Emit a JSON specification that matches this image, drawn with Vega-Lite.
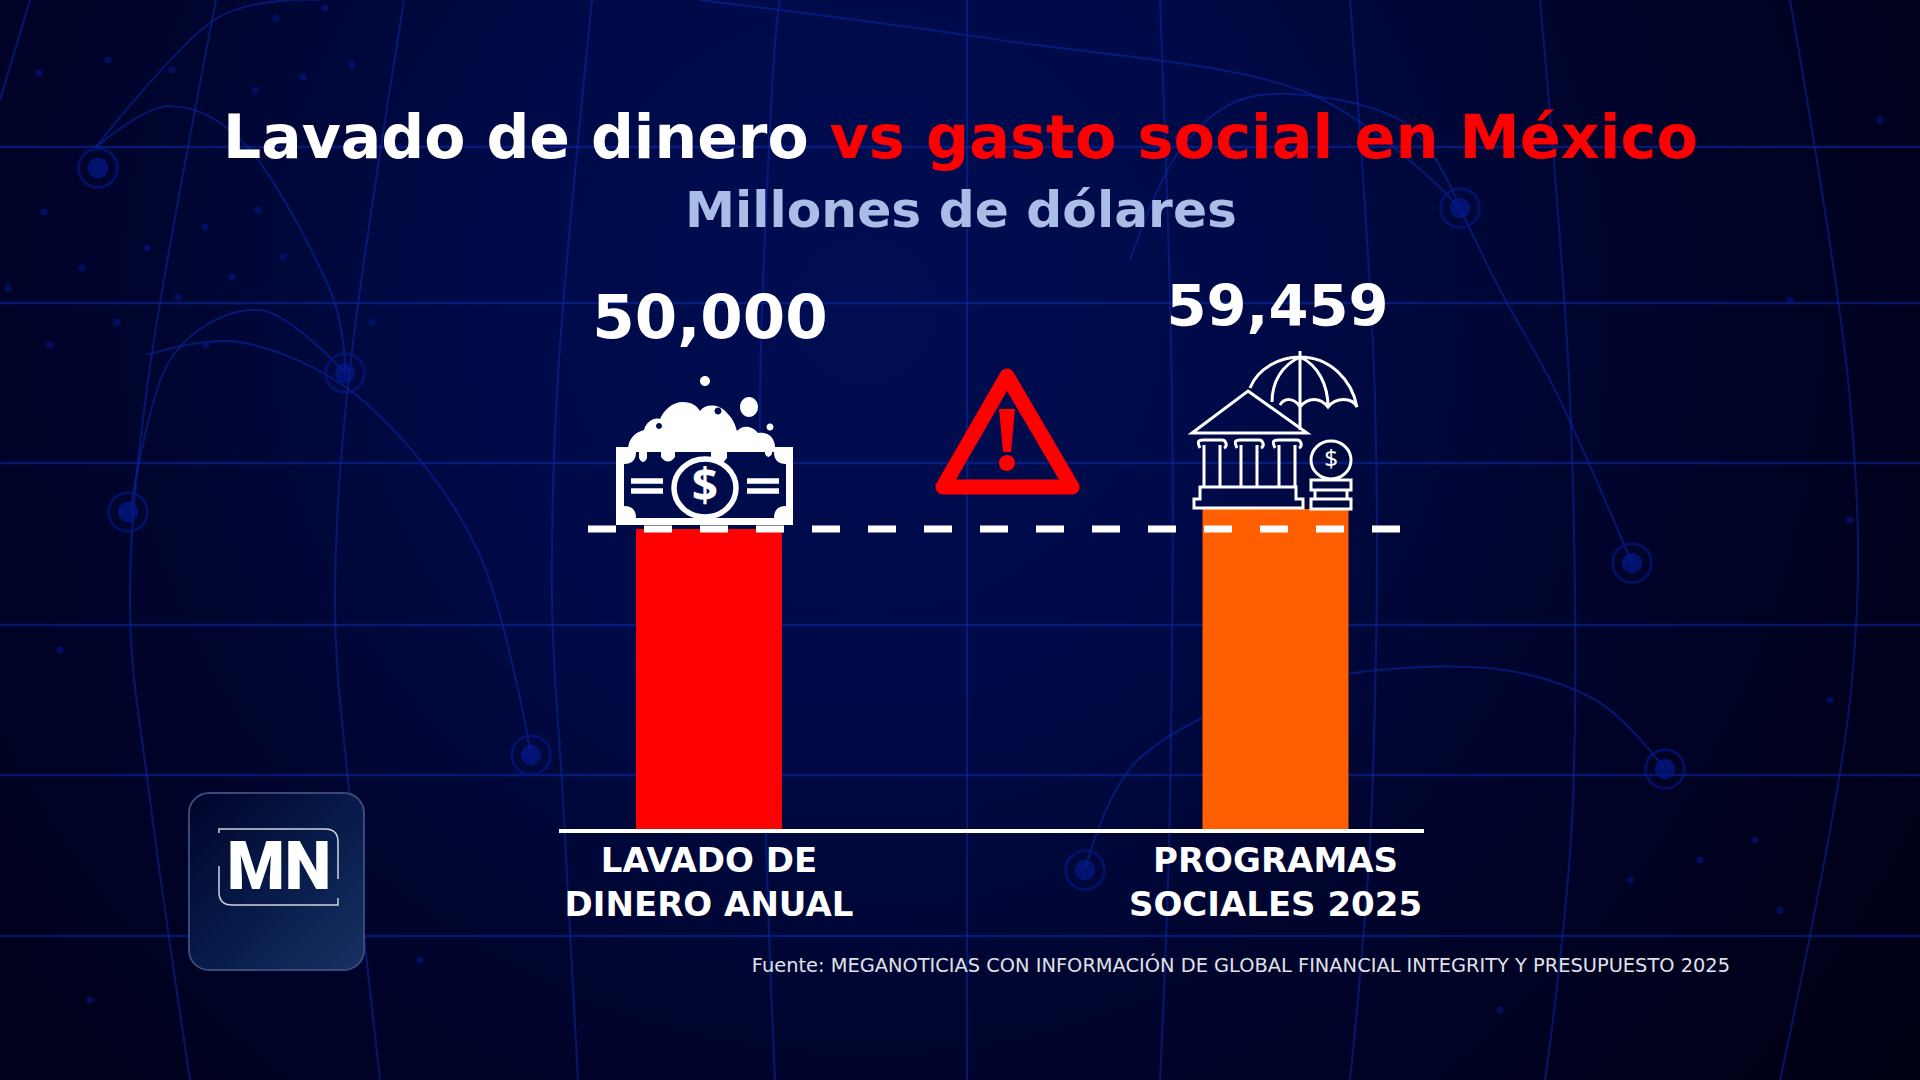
{"$schema":"https://vega.github.io/schema/vega-lite/v6.json","width":1920,"height":1080,"padding":0,"autosize":"none","background":"#00001c","config":{"view":{"stroke":null}},
"data":{"values":[{"anotacion":1}]},
"datasets":{
"valores":[{"categoria":"Lavado de dinero anual","rotulo":"LAVADO DE\nDINERO ANUAL","valor":50000,"etiqueta":"50,000"},{"categoria":"Programas sociales 2025","rotulo":"PROGRAMAS\nSOCIALES 2025","valor":59459,"etiqueta":"59,459"}],
"horizontales":[{"y":147},{"y":303},{"y":463},{"y":625},{"y":775},{"y":936}],
"curvas":[
{"id":"v1","n":0,"x":30,"y":0},{"id":"v1","n":1,"x":0,"y":100},
{"id":"v2","n":0,"x":216,"y":0},{"id":"v2","n":1,"x":151,"y":360},{"id":"v2","n":2,"x":130,"y":600},{"id":"v2","n":3,"x":150,"y":800},{"id":"v2","n":4,"x":190,"y":1080},
{"id":"v3","n":0,"x":404,"y":0},{"id":"v3","n":1,"x":351,"y":360},{"id":"v3","n":2,"x":335,"y":600},{"id":"v3","n":3,"x":350,"y":800},{"id":"v3","n":4,"x":380,"y":1080},
{"id":"v4","n":0,"x":592,"y":0},{"id":"v4","n":1,"x":559,"y":360},{"id":"v4","n":2,"x":552,"y":600},{"id":"v4","n":3,"x":563,"y":800},{"id":"v4","n":4,"x":578,"y":1080},
{"id":"v5","n":0,"x":780,"y":0},{"id":"v5","n":1,"x":772,"y":90},{"id":"v5","n":2,"x":760,"y":400},{"id":"v5","n":3,"x":765,"y":800},{"id":"v5","n":4,"x":775,"y":1080},
{"id":"v6","n":0,"x":967,"y":0},{"id":"v6","n":1,"x":967,"y":1080},
{"id":"v7","n":0,"x":1160,"y":0},{"id":"v7","n":1,"x":1172,"y":400},{"id":"v7","n":2,"x":1170,"y":800},{"id":"v7","n":3,"x":1160,"y":1080},
{"id":"v8","n":0,"x":1350,"y":0},{"id":"v8","n":1,"x":1375,"y":400},{"id":"v8","n":2,"x":1372,"y":800},{"id":"v8","n":3,"x":1350,"y":1080},
{"id":"v9","n":0,"x":1540,"y":0},{"id":"v9","n":1,"x":1570,"y":400},{"id":"v9","n":2,"x":1573,"y":800},{"id":"v9","n":3,"x":1545,"y":1080},
{"id":"v10","n":0,"x":1790,"y":0},{"id":"v10","n":1,"x":1850,"y":400},{"id":"v10","n":2,"x":1850,"y":700},{"id":"v10","n":3,"x":1780,"y":1080},
{"id":"a1","n":0,"x":96,"y":147},{"id":"a1","n":1,"x":214,"y":20},{"id":"a1","n":2,"x":320,"y":0},
{"id":"a2","n":0,"x":96,"y":147},{"id":"a2","n":1,"x":170,"y":106},{"id":"a2","n":2,"x":250,"y":150},{"id":"a2","n":3,"x":330,"y":290},{"id":"a2","n":4,"x":345,"y":373},
{"id":"a3","n":0,"x":345,"y":373},{"id":"a3","n":1,"x":260,"y":310},{"id":"a3","n":2,"x":170,"y":360},{"id":"a3","n":3,"x":130,"y":512},
{"id":"a4","n":0,"x":531,"y":755},{"id":"a4","n":1,"x":478,"y":551},{"id":"a4","n":2,"x":367,"y":404},{"id":"a4","n":3,"x":245,"y":343},{"id":"a4","n":4,"x":147,"y":355},
{"id":"a5","n":0,"x":1085,"y":870},{"id":"a5","n":1,"x":1139,"y":759},{"id":"a5","n":2,"x":1286,"y":686},{"id":"a5","n":3,"x":1470,"y":667},{"id":"a5","n":4,"x":1592,"y":698},{"id":"a5","n":5,"x":1665,"y":769},
{"id":"a6","n":0,"x":700,"y":0},{"id":"a6","n":1,"x":1000,"y":40},{"id":"a6","n":2,"x":1300,"y":90},{"id":"a6","n":3,"x":1460,"y":208},
{"id":"a7","n":0,"x":1130,"y":260},{"id":"a7","n":1,"x":1180,"y":150},{"id":"a7","n":2,"x":1260,"y":95},{"id":"a7","n":3,"x":1400,"y":120},{"id":"a7","n":4,"x":1460,"y":208},
{"id":"a8","n":0,"x":1632,"y":563},{"id":"a8","n":1,"x":1560,"y":400},{"id":"a8","n":2,"x":1500,"y":290},{"id":"a8","n":3,"x":1460,"y":208}
],
"anillos":[{"x":98,"y":168},{"x":345,"y":373},{"x":1460,"y":208},{"x":531,"y":755},{"x":1085,"y":870},{"x":1632,"y":563},{"x":1665,"y":769},{"x":128,"y":512}],
"puntos":[{"x":39,"y":73},{"x":108,"y":60},{"x":172,"y":70},{"x":276,"y":18},{"x":325,"y":8},{"x":352,"y":65},{"x":303,"y":77},{"x":255,"y":90},{"x":44,"y":212},{"x":205,"y":227},{"x":147,"y":248},{"x":258,"y":210},{"x":283,"y":257},{"x":82,"y":268},{"x":232,"y":277},{"x":8,"y":288},{"x":178,"y":297},{"x":372,"y":322},{"x":117,"y":322},{"x":50,"y":345},{"x":206,"y":345},{"x":1630,"y":880},{"x":1700,"y":860},{"x":1755,"y":840},{"x":1780,"y":910},{"x":1710,"y":970},{"x":1830,"y":700},{"x":1790,"y":300},{"x":1850,"y":520},{"x":1690,"y":140},{"x":1880,"y":120},{"x":60,"y":650},{"x":220,"y":880},{"x":90,"y":1000},{"x":420,"y":960},{"x":1500,"y":1010}]
},
"layer":[
{"mark":{"type":"rect","fill":{"gradient":"radial","x1":0.45,"y1":0.38,"r1":0,"x2":0.45,"y2":0.38,"r2":0.68,"stops":[{"offset":0,"color":"#000d52"},{"offset":0.3,"color":"#000a48"},{"offset":0.55,"color":"#00052f"},{"offset":0.8,"color":"#00011e"},{"offset":1,"color":"#000014"}]}},
"encoding":{"x":{"datum":0,"type":"quantitative","scale":{"domain":[0,1920]},"axis":null},"x2":{"datum":1920},"y":{"datum":0,"type":"quantitative","scale":{"domain":[1080,0]},"axis":null},"y2":{"datum":1080}}},
{"data":{"name":"horizontales"},"mark":{"type":"rule","stroke":"#0b2bb0","strokeWidth":2.5,"opacity":0.5},"encoding":{"y":{"field":"y","type":"quantitative","scale":{"domain":[1080,0]},"axis":null}}},
{"data":{"name":"curvas"},"mark":{"type":"line","interpolate":"cardinal","stroke":"#0a28a8","strokeWidth":2,"opacity":0.55,"clip":true},"encoding":{"x":{"field":"x","type":"quantitative","scale":{"domain":[0,1920]},"axis":null},"y":{"field":"y","type":"quantitative","scale":{"domain":[1080,0]},"axis":null},"detail":{"field":"id"},"order":{"field":"n"}}},
{"data":{"name":"puntos"},"mark":{"type":"circle","color":"#04188c","size":50,"opacity":0.55},"encoding":{"x":{"field":"x","type":"quantitative","scale":{"domain":[0,1920]},"axis":null},"y":{"field":"y","type":"quantitative","scale":{"domain":[1080,0]},"axis":null}}},
{"data":{"name":"anillos"},"mark":{"type":"circle","color":"#04188c","size":420,"opacity":0.7},"encoding":{"x":{"field":"x","type":"quantitative","scale":{"domain":[0,1920]},"axis":null},"y":{"field":"y","type":"quantitative","scale":{"domain":[1080,0]},"axis":null}}},
{"data":{"name":"anillos"},"mark":{"type":"point","stroke":"#04188c","strokeWidth":3,"size":1500,"opacity":0.6,"filled":false},"encoding":{"x":{"field":"x","type":"quantitative","scale":{"domain":[0,1920]},"axis":null},"y":{"field":"y","type":"quantitative","scale":{"domain":[1080,0]},"axis":null}}},
{"data":{"name":"valores"},"mark":{"type":"bar","width":146},"encoding":{"x":{"field":"categoria","type":"nominal","scale":{"type":"point","padding":0,"domain":["Lavado de dinero anual","Programas sociales 2025"],"range":[709,1275.5]},"axis":null},"y":{"field":"valor","type":"quantitative","scale":{"domain":[-210595,300191],"zero":false},"axis":null},"y2":{"datum":-92831},"color":{"field":"categoria","type":"nominal","scale":{"domain":["Lavado de dinero anual","Programas sociales 2025"],"range":["#ff0000","#ff5f00"]},"legend":null}}},
{"mark":{"type":"point","shape":"M6.16 4.47H7.93V5.25H6.16ZM6.28 4.5C6.28 4.38 6.36 4.32 6.44 4.3C6.46 4.22 6.54 4.17 6.6 4.19C6.64 4.1 6.72 4.02 6.83 4.02C6.92 4.02 6.97 4.06 7 4.11C7.06 4.03 7.2 4.04 7.27 4.13C7.33 4.19 7.35 4.24 7.37 4.31C7.43 4.24 7.53 4.26 7.58 4.33C7.68 4.31 7.76 4.38 7.75 4.5ZM7 3.81A.05 .05 0 1 0 7.1 3.81A.05 .05 0 1 0 7 3.81ZM7.4 4.07A.09 .1 0 1 0 7.58 4.07A.09 .1 0 1 0 7.4 4.07ZM7.665 4.27A.035 .035 0 1 0 7.735 4.27A.035 .035 0 1 0 7.665 4.27Z","size":40000,"filled":true,"fill":"#ffffff","stroke":null,"opacity":1},"encoding":{"x":{"datum":0,"type":"quantitative","scale":{"domain":[0,1920]},"axis":null},"y":{"datum":0,"type":"quantitative","scale":{"domain":[1080,0]},"axis":null}}},
{"mark":{"type":"point","shape":"M6.36 4.52H7.74Q7.74 4.64 7.86 4.64V5.06Q7.74 5.06 7.74 5.18H6.36Q6.36 5.06 6.24 5.06V4.64Q6.36 4.64 6.36 4.52ZM6.56 4.26A.03 .03 0 1 0 6.62 4.26A.03 .03 0 1 0 6.56 4.26ZM7.145 4.11A.035 .035 0 1 0 7.215 4.11A.035 .035 0 1 0 7.145 4.11Z","size":40000,"filled":true,"fill":"#000b4c","stroke":null,"opacity":1},"encoding":{"x":{"datum":0,"type":"quantitative","scale":{"domain":[0,1920]},"axis":null},"y":{"datum":0,"type":"quantitative","scale":{"domain":[1080,0]},"axis":null}}},
{"mark":{"type":"point","shape":"M6.39 4.45V4.58Q6.43 4.66 6.47 4.58V4.45ZM6.61 4.45V4.57Q6.68 4.66 6.75 4.57V4.45ZM7.11 4.45V4.58Q7.19 4.69 7.27 4.58V4.45ZM7.41 4.45V4.48Q7.47 4.56 7.54 4.48V4.45ZM7.65 4.45V4.54Q7.68 4.6 7.72 4.54V4.45Z","size":40000,"filled":true,"fill":"#ffffff","stroke":null,"opacity":1},"encoding":{"x":{"datum":0,"type":"quantitative","scale":{"domain":[0,1920]},"axis":null},"y":{"datum":0,"type":"quantitative","scale":{"domain":[1080,0]},"axis":null}}},
{"mark":{"type":"point","shape":"M6.74 4.88A.31 .29 0 1 0 7.36 4.88A.31 .29 0 1 0 6.74 4.88ZM6.31 4.81H6.63M6.31 4.91H6.63M7.47 4.81H7.79M7.47 4.91H7.79","size":40000,"filled":false,"stroke":"#ffffff","strokeWidth":5.5,"opacity":1},"encoding":{"x":{"datum":0,"type":"quantitative","scale":{"domain":[0,1920]},"axis":null},"y":{"datum":0,"type":"quantitative","scale":{"domain":[1080,0]},"axis":null}}},
{"mark":{"type":"text","text":"$","font":"Noto Sans","fontWeight":"bold","fontSize":46,"fill":"#ffffff","align":"center","baseline":"middle"},"encoding":{"x":{"datum":705,"type":"quantitative","scale":{"domain":[0,1920]},"axis":null},"y":{"datum":488,"type":"quantitative","scale":{"domain":[1080,0]},"axis":null}}},
{"mark":{"type":"point","shape":"M10.07 3.76L10.72 4.87H9.43Z","size":40000,"filled":false,"stroke":"#ff0000","strokeWidth":15,"strokeJoin":"round","opacity":1},"encoding":{"x":{"datum":0,"type":"quantitative","scale":{"domain":[0,1920]},"axis":null},"y":{"datum":0,"type":"quantitative","scale":{"domain":[1080,0]},"axis":null}}},
{"mark":{"type":"point","shape":"M9.99 4.09H10.15L10.11 4.52H10.03ZM9.99 4.63A.08 .08 0 1 0 10.15 4.63A.08 .08 0 1 0 9.99 4.63Z","size":40000,"filled":true,"fill":"#ff0000","stroke":null,"opacity":1},"encoding":{"x":{"datum":0,"type":"quantitative","scale":{"domain":[0,1920]},"axis":null},"y":{"datum":0,"type":"quantitative","scale":{"domain":[1080,0]},"axis":null}}},
{"mark":{"type":"point","shape":"M13 3.51V4.3M12.5 3.88C12.58 3.68 12.8 3.57 13 3.57C13.3 3.57 13.52 3.8 13.57 4.07C13.52 3.97 13.36 3.97 13.28 4.07C13.2 3.97 13.08 3.97 13 4.07C12.94 3.97 12.84 3.98 12.8 4.05M13 3.57C12.82 3.65 12.72 3.82 12.72 4.02M13 3.57C13.18 3.65 13.28 3.85 13.28 4.07M12.48 3.91L13.07 4.33H11.92ZM12 4.48C11.96 4.4 12 4.4 12.03 4.4H12.22C12.26 4.4 12.28 4.46 12.24 4.48M12.04 4.45V4.87M12.2 4.45V4.87M12.37 4.48C12.33 4.4 12.37 4.4 12.4 4.4H12.59C12.63 4.4 12.65 4.46 12.61 4.48M12.41 4.45V4.87M12.57 4.45V4.87M12.75 4.48C12.71 4.4 12.75 4.4 12.78 4.4H12.97C13.01 4.4 13.03 4.46 12.99 4.48M12.79 4.45V4.87M12.95 4.45V4.87M12 4.87H12.96V4.99H13.03V5.08H11.94V4.99H12ZM13.11 4.6A.2 .19 0 1 0 13.51 4.6A.2 .19 0 1 0 13.11 4.6ZM13.11 4.8H13.51V4.9H13.11ZM13.15 4.9H13.47V4.99H13.15ZM13.11 4.99H13.51V5.09H13.11Z","size":40000,"filled":false,"stroke":"#ffffff","strokeWidth":3,"opacity":1},"encoding":{"x":{"datum":0,"type":"quantitative","scale":{"domain":[0,1920]},"axis":null},"y":{"datum":0,"type":"quantitative","scale":{"domain":[1080,0]},"axis":null}}},
{"mark":{"type":"text","text":"$","font":"Noto Sans","fontSize":24,"fill":"#ffffff","align":"center","baseline":"middle"},"encoding":{"x":{"datum":1331,"type":"quantitative","scale":{"domain":[0,1920]},"axis":null},"y":{"datum":460,"type":"quantitative","scale":{"domain":[1080,0]},"axis":null}}},
{"mark":{"type":"rule","stroke":"#ffffff","strokeWidth":7,"strokeDash":[28,28]},"encoding":{"x":{"datum":588,"type":"quantitative","scale":{"domain":[0,1920]},"axis":null},"x2":{"datum":1400},"y":{"datum":50000,"type":"quantitative","scale":{"domain":[-210595,300191],"zero":false},"axis":null}}},
{"mark":{"type":"rule","stroke":"#ffffff","strokeWidth":4},"encoding":{"x":{"datum":559,"type":"quantitative","scale":{"domain":[0,1920]},"axis":null},"x2":{"datum":1424},"y":{"datum":-92831,"type":"quantitative","scale":{"domain":[-210595,300191],"zero":false},"axis":null}}},
{"data":{"name":"valores"},"transform":[{"filter":"datum.valor == 50000"}],"mark":{"type":"text","font":"DejaVu Sans","fontWeight":"bold","fontSize":61,"fill":"#ffffff","baseline":"alphabetic","dy":-191,"dx":1},"encoding":{"x":{"field":"categoria","type":"nominal","scale":{"type":"point","padding":0,"domain":["Lavado de dinero anual","Programas sociales 2025"],"range":[709,1275.5]},"axis":null},"y":{"field":"valor","type":"quantitative","scale":{"domain":[-210595,300191],"zero":false},"axis":null},"text":{"field":"etiqueta"}}},
{"data":{"name":"valores"},"transform":[{"filter":"datum.valor == 59459"}],"mark":{"type":"text","font":"DejaVu Sans","fontWeight":"bold","fontSize":57.5,"fill":"#ffffff","baseline":"alphabetic","dy":-183,"dx":2},"encoding":{"x":{"field":"categoria","type":"nominal","scale":{"type":"point","padding":0,"domain":["Lavado de dinero anual","Programas sociales 2025"],"range":[709,1275.5]},"axis":null},"y":{"field":"valor","type":"quantitative","scale":{"domain":[-210595,300191],"zero":false},"axis":null},"text":{"field":"etiqueta"}}},
{"data":{"name":"valores"},"mark":{"type":"text","font":"DejaVu Sans","fontWeight":"bold","fontSize":34,"fill":"#ffffff","baseline":"top","lineBreak":"\n","lineHeight":44,"dy":14},"encoding":{"x":{"field":"categoria","type":"nominal","scale":{"type":"point","padding":0,"domain":["Lavado de dinero anual","Programas sociales 2025"],"range":[709,1275.5]},"axis":null},"y":{"datum":-92831,"type":"quantitative","scale":{"domain":[-210595,300191],"zero":false},"axis":null},"text":{"field":"rotulo"}}},
{"mark":{"type":"text","text":"Lavado de dinero","font":"DejaVu Sans","fontWeight":"bold","fontSize":60,"fill":"#ffffff","align":"left","baseline":"alphabetic"},"encoding":{"x":{"datum":223,"type":"quantitative","scale":{"domain":[0,1920]},"axis":null},"y":{"datum":158,"type":"quantitative","scale":{"domain":[1080,0]},"axis":null}}},
{"mark":{"type":"text","text":"vs gasto social en México","font":"DejaVu Sans","fontWeight":"bold","fontSize":60.5,"fill":"#ff0000","align":"right","baseline":"alphabetic"},"encoding":{"x":{"datum":1698,"type":"quantitative","scale":{"domain":[0,1920]},"axis":null},"y":{"datum":158,"type":"quantitative","scale":{"domain":[1080,0]},"axis":null}}},
{"mark":{"type":"text","text":"Millones de dólares","font":"DejaVu Sans","fontWeight":"bold","fontSize":50.3,"fill":"#a9bde6","align":"center","baseline":"alphabetic"},"encoding":{"x":{"datum":961,"type":"quantitative","scale":{"domain":[0,1920]},"axis":null},"y":{"datum":227,"type":"quantitative","scale":{"domain":[1080,0]},"axis":null}}},
{"mark":{"type":"text","text":"Fuente: MEGANOTICIAS CON INFORMACIÓN DE GLOBAL FINANCIAL INTEGRITY Y PRESUPUESTO 2025","font":"DejaVu Sans","fontSize":19.4,"fill":"#e0e2ea","align":"right","baseline":"alphabetic"},"encoding":{"x":{"datum":1730,"type":"quantitative","scale":{"domain":[0,1920]},"axis":null},"y":{"datum":972,"type":"quantitative","scale":{"domain":[1080,0]},"axis":null}}},
{"mark":{"type":"rect","cornerRadius":20,"fill":{"gradient":"linear","x1":0,"y1":0,"x2":1,"y2":1,"stops":[{"offset":0,"color":"#01032a"},{"offset":0.5,"color":"#071a49"},{"offset":1,"color":"#173263"}]},"stroke":"#3a4a78","strokeWidth":2},"encoding":{"x":{"datum":189,"type":"quantitative","scale":{"domain":[0,1920]},"axis":null},"x2":{"datum":364},"y":{"datum":793,"type":"quantitative","scale":{"domain":[1080,0]},"axis":null},"y2":{"datum":970}}},
{"mark":{"type":"point","shape":"M2.19 8.33V8.29H3.25Q3.38 8.29 3.38 8.42V8.79M2.19 8.66V8.92Q2.19 9.05 2.32 9.05H3.38V8.98","size":40000,"filled":false,"stroke":"#cfd3dc","strokeWidth":1.5,"opacity":1},"encoding":{"x":{"datum":0,"type":"quantitative","scale":{"domain":[0,1920]},"axis":null},"y":{"datum":0,"type":"quantitative","scale":{"domain":[1080,0]},"axis":null}}},
{"mark":{"type":"text","text":"MN","font":"Roboto","fontWeight":900,"fontSize":66,"fill":"#ffffff","align":"center","baseline":"alphabetic"},"encoding":{"x":{"datum":279,"type":"quantitative","scale":{"domain":[0,1920]},"axis":null},"y":{"datum":889,"type":"quantitative","scale":{"domain":[1080,0]},"axis":null}}}
],
"resolve":{"scale":{"x":"independent","y":"independent","color":"independent"}}}
